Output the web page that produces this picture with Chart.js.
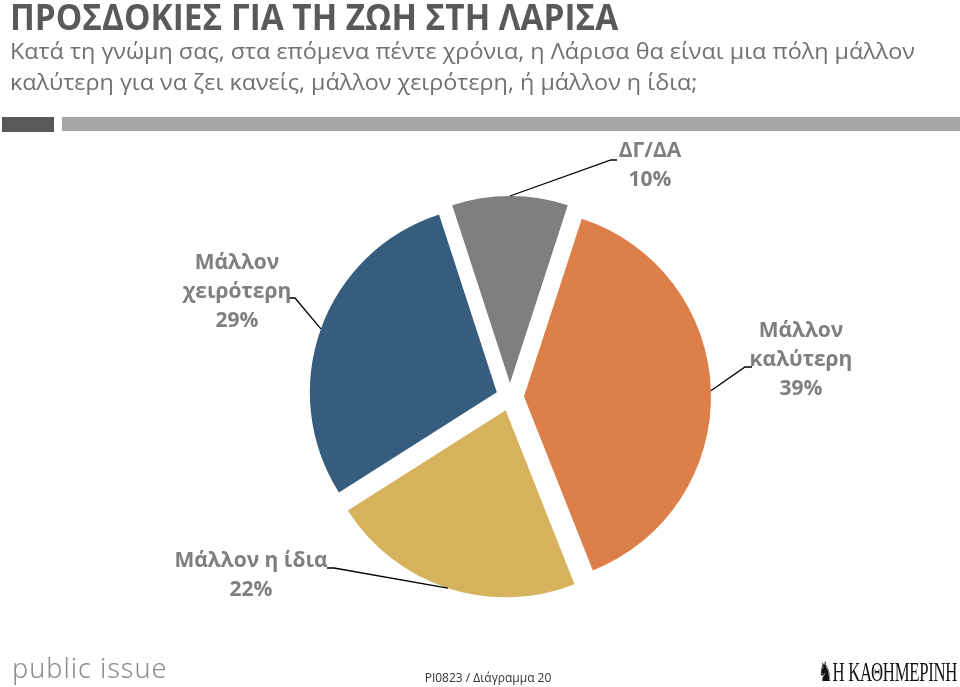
<!DOCTYPE html>
<html lang="el">
<head>
<meta charset="utf-8">
<title>Προσδοκίες για τη ζωή στη Λάρισα</title>
<script src="https://cdn.jsdelivr.net/npm/chart.js@4.4.1/dist/chart.umd.min.js"></script>
<style>
    body { margin: 0; background: #fff; font-family: "Open Sans", "Noto Sans", sans-serif; }
    #page { position: relative; width: 960px; height: 687px; overflow: hidden; }
    #pieCanvas { position: absolute; left: 0; top: 0; }
    .title { position: absolute; left: 10px; top: -7px; font-size: 35px; font-weight: 700; color: #595959; white-space: nowrap; transform-origin: 0 0; }
    .subtitle { position: absolute; left: 10px; top: 35px; font-size: 22.5px; line-height: 31px; color: #707070; white-space: nowrap; transform-origin: 0 0; }
    .bar { position: absolute; top: 117px; height: 14px; }
    .bar.dark { left: 2px; width: 52px; background: #595959; height: 15px; }
    .bar.light { left: 62px; right: 0; background: #a6a6a6; }
    .brand { position: absolute; left: 12px; top: 649px; font-family: "Noto Sans", sans-serif; font-weight: 300; font-size: 27px; color: #8c8c8c; letter-spacing: 1px; }
    .code { position: absolute; left: 0; width: 976px; text-align: center; top: 669px; font-size: 12px; color: #333; }
    .paper { position: absolute; left: 818px; top: 656px; font-family: "Liberation Serif", serif; font-size: 27px; color: #111; white-space: nowrap; transform: scaleX(0.62); transform-origin: 0 0; letter-spacing: -0.5px; }
</style>
</head>
<body>
<div id="page">
    <canvas id="pieCanvas" width="960" height="687"></canvas>
    <div class="title" id="title">ΠΡΟΣΔΟΚΙΕΣ ΓΙΑ ΤΗ ΖΩΗ ΣΤΗ ΛΑΡΙΣΑ</div>
    <div class="subtitle" id="subtitle">Κατά τη γνώμη σας, στα επόμενα πέντε χρόνια, η Λάρισα θα είναι μια πόλη μάλλον<br>καλύτερη για να ζει κανείς, μάλλον χειρότερη, ή μάλλον η ίδια;</div>
    <div class="bar dark"></div>
    <div class="bar light"></div>
    <div class="brand">public issue</div>
    <div class="code">PI0823 / Διάγραμμα 20</div>
    <div class="paper">♞Η ΚΑΘΗΜΕΡΙΝΗ</div>
</div>
<script>
// dados do gráfico
const categories = ['Μάλλον καλύτερη', 'Μάλλον η ίδια', 'Μάλλον χειρότερη', 'ΔΓ/ΔΑ'];
const values = [39, 22, 29, 10];
const sliceColors = ['#dc7f48', '#d7b25c', '#365d7e', '#7f7f7f'];
// como cada rótulo quebra em linhas
const labelLines = [['Μάλλον', 'καλύτερη'], ['Μάλλον η ίδια'], ['Μάλλον', 'χειρότερη'], ['ΔΓ/ΔΑ']];

// posição dos rótulos e das linhas de chamada
const labelLayout = [
    { x: 801, y: 331, tail: [[745, 367], [752, 367]] },
    { x: 251, y: 561, tail: [[334, 568], [327, 568]] },
    { x: 237, y: 263, tail: [[295, 298], [288, 298]] },
    { x: 650, y: 151, tail: [[611, 160], [617, 160]] }
];
const EXPLODE = 14;

// encaixa título e subtítulo na largura original
const titleEl = document.getElementById('title');
titleEl.style.transform = 'scaleX(' + (608 / titleEl.offsetWidth) + ')';
const subEl = document.getElementById('subtitle');
subEl.style.transform = 'scaleX(' + (905 / subEl.offsetWidth) + ')';

// afasta cada fatia do centro
const explodePlugin = {
    id: 'explode',
    afterDatasetsUpdate(chart) {
        const area = chart.chartArea;
        const cx = (area.left + area.right) / 2;
        const cy = (area.top + area.bottom) / 2;
        chart.getDatasetMeta(0).data.forEach(arc => {
            const mid = (arc.startAngle + arc.endAngle) / 2;
            arc.x = cx + Math.cos(mid) * EXPLODE;
            arc.y = cy + Math.sin(mid) * EXPLODE;
        });
    }
};

const labelPlugin = {
    id: 'sliceLabels',
    afterDraw(chart) {
        const ctx = chart.ctx;
        ctx.save();
        chart.getDatasetMeta(0).data.forEach((arc, i) => {
            const lay = labelLayout[i];
            const mid = (arc.startAngle + arc.endAngle) / 2;
            const px = arc.x + Math.cos(mid) * arc.outerRadius;
            const py = arc.y + Math.sin(mid) * arc.outerRadius;

            ctx.strokeStyle = '#000';
            ctx.lineWidth = 1.3;
            ctx.beginPath();
            ctx.moveTo(px, py);
            lay.tail.forEach(p => ctx.lineTo(p[0], p[1]));
            ctx.stroke();

            const lines = labelLines[i].concat([values[i] + '%']);
            ctx.fillStyle = '#7f7f7f';
            ctx.font = 'bold 21px "Open Sans", sans-serif';
            ctx.textAlign = 'center';
            ctx.textBaseline = 'middle';
            lines.forEach((t, k) => ctx.fillText(t, lay.x, lay.y + k * 29));
        });
        ctx.restore();
    }
};

new Chart(document.getElementById('pieCanvas').getContext('2d'), {
    type: 'pie',
    data: {
        labels: categories,
        datasets: [{
            data: values,
            backgroundColor: sliceColors,
            borderWidth: 0
        }]
    },
    options: {
        responsive: false,
        animation: false,
        rotation: 18,
        radius: 187,
        layout: { padding: { left: 60, right: 0, top: 152, bottom: 45 } },
        plugins: {
            legend: { display: false },
            tooltip: { enabled: false }
        }
    },
    plugins: [explodePlugin, labelPlugin]
});
</script>
</body>
</html>
